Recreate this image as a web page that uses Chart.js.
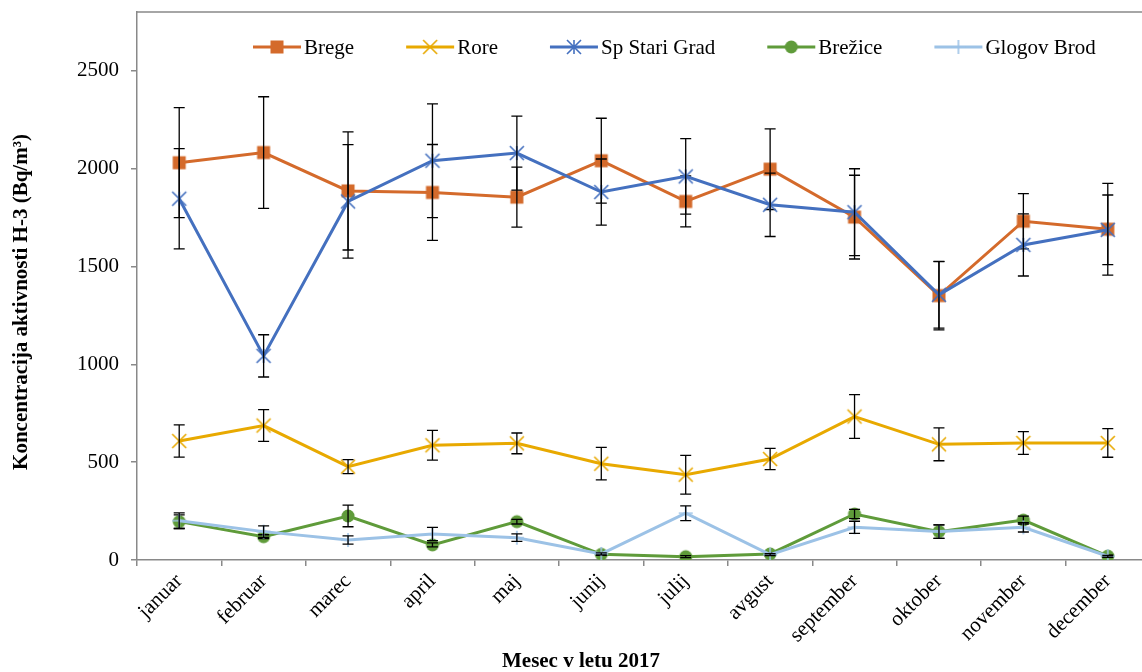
<!DOCTYPE html>
<html>
<head>
<meta charset="utf-8">
<script src="https://cdn.jsdelivr.net/npm/chart.js@4.4.1/dist/chart.umd.min.js"></script>
<style>
  html, body { margin: 0; padding: 0; background: #ffffff; overflow: hidden; }
  #wrap { width: 1160px; height: 672px; }
</style>
</head>
<body>
<div id="wrap"><canvas id="chart" width="1160" height="672"></canvas></div>
<script>
// Months of 2017
const months = ['januar', 'februar', 'marec', 'april', 'maj', 'junij', 'julij', 'avgust', 'september', 'oktober', 'november', 'december'];

// H-3 activity concentration (Bq/m³) and uncertainties per sampling site
const brege       = [2030, 2082, 1886, 1878, 1854, 2040, 1832, 1997, 1752, 1351, 1731, 1690];
const bregeErr    = [281, 285, 302, 245, 153, 217, 130, 206, 214, 175, 141, 234];
const rore        = [608, 687, 477, 586, 596, 492, 436, 516, 733, 591, 598, 598];
const roreErr     = [82, 81, 36, 76, 53, 83, 99, 54, 112, 84, 58, 73];
const spStariGrad = [1846, 1043, 1832, 2040, 2079, 1880, 1960, 1815, 1777, 1355, 1610, 1687];
const spErr       = [256, 108, 290, 291, 189, 169, 193, 162, 222, 170, 159, 178];
const brezice     = [196, 119, 225, 77, 196, 29, 17, 31, 235, 145, 204, 20];
const breziceErr  = [35, 10, 55, 10, 12, 5, 5, 5, 24, 34, 20, 5];
const glogovBrod  = [201, 145, 102, 133, 114, 31, 239, 27, 167, 145, 167, 19];
const glogovErr   = [40, 29, 21, 34, 19, 5, 38, 5, 31, 34, 24, 5];

// Axis tick values
const yTicks = [0, 500, 1000, 1500, 2000, 2500];

const FONT = "'Liberation Serif', 'Times New Roman', serif";
const FONT_SIZE = 21;

// Marker images shared by the lines and the legend
function makeMarker(kind, color) {
  const c = document.createElement('canvas');
  c.width = 24; c.height = 24;
  const g = c.getContext('2d');
  g.fillStyle = color; g.strokeStyle = color; g.lineWidth = 1.6; g.lineCap = 'butt';
  const m = 12;
  if (kind === 'square') {
    g.fillRect(m - 6.5, m - 6.5, 13, 13);
  } else if (kind === 'circle') {
    g.beginPath(); g.arc(m, m, 6.5, 0, Math.PI * 2); g.fill();
  } else {
    g.beginPath();
    if (kind === 'x' || kind === 'star') {
      g.moveTo(m - 7, m - 7); g.lineTo(m + 7, m + 7);
      g.moveTo(m + 7, m - 7); g.lineTo(m - 7, m + 7);
    }
    if (kind === 'star') {
      g.moveTo(m, m - 7); g.lineTo(m, m + 7);
    }
    if (kind === 'plus') {
      g.moveTo(m - 7, m); g.lineTo(m + 7, m);
      g.moveTo(m, m - 7); g.lineTo(m, m + 7);
    }
    g.stroke();
  }
  return c;
}

const series = [
  { label: 'Brege',          data: brege,       err: bregeErr,   color: '#D46A2B', marker: 'square' },
  { label: 'Rore',           data: rore,        err: roreErr,    color: '#E8A900', marker: 'x' },
  { label: 'Sp Stari Grad',  data: spStariGrad, err: spErr,      color: '#4470BF', marker: 'star' },
  { label: 'Brežice',        data: brezice,     err: breziceErr, color: '#5F9B3A', marker: 'circle' },
  { label: 'Glogov Brod',    data: glogovBrod,  err: glogovErr,  color: '#9CC2E6', marker: 'plus' }
];

const datasets = series.map((s, i) => ({
  label: s.label,
  data: s.data,
  errors: s.err,
  borderColor: s.color,
  backgroundColor: s.color,
  borderWidth: 3,
  tension: 0,
  pointStyle: makeMarker(s.marker, s.color),
  pointRadius: 7,
  pointHoverRadius: 7,
  order: series.length - i
}));

// Vertical error bars with caps, drawn right after each series
const errorBars = {
  id: 'errorBars',
  afterDatasetDraw(chart, args) {
    const ds = chart.data.datasets[args.index];
    if (!ds.errors) return;
    const y = chart.scales.y;
    const ctx = chart.ctx;
    ctx.save();
    ctx.strokeStyle = '#000000';
    ctx.lineWidth = 1.3;
    args.meta.data.forEach((pt, i) => {
      const v = ds.data[i], e = ds.errors[i];
      const yTop = y.getPixelForValue(v + e);
      const yBot = y.getPixelForValue(v - e);
      const x = pt.x;
      ctx.beginPath();
      ctx.moveTo(x, yTop); ctx.lineTo(x, yBot);
      ctx.moveTo(x - 5.5, yTop); ctx.lineTo(x + 5.5, yTop);
      ctx.moveTo(x - 5.5, yBot); ctx.lineTo(x + 5.5, yBot);
      ctx.stroke();
    });
    ctx.restore();
  }
};

// Plot frame top edge, legend and axis titles
const decorations = {
  id: 'decorations',
  afterDraw(chart) {
    const ctx = chart.ctx;
    const a = chart.chartArea;
    ctx.save();
    ctx.strokeStyle = '#898989';
    ctx.lineWidth = 1.5;
    ctx.beginPath();
    ctx.moveTo(a.left, a.top); ctx.lineTo(a.right, a.top);
    ctx.stroke();

    // Legend in the top of the plot area
    ctx.font = FONT_SIZE + 'px ' + FONT;
    ctx.textBaseline = 'middle';
    ctx.textAlign = 'left';
    let x = 253;
    const ly = 47;
    chart.data.datasets.forEach(ds => {
      ctx.strokeStyle = ds.borderColor;
      ctx.lineWidth = 3;
      ctx.beginPath(); ctx.moveTo(x, ly); ctx.lineTo(x + 48, ly); ctx.stroke();
      const img = ds.pointStyle;
      ctx.drawImage(img, x + 24 - img.width / 2, ly - img.height / 2);
      ctx.fillStyle = '#000000';
      ctx.fillText(ds.label, x + 51, ly + 1);
      x += 51 + ctx.measureText(ds.label).width + 52;
    });

    // Axis titles
    ctx.font = 'bold ' + FONT_SIZE + 'px ' + FONT;
    ctx.fillStyle = '#000000';
    ctx.textAlign = 'center';
    ctx.fillText('Mesec v letu 2017', 581, 662);
    ctx.translate(22, 302);
    ctx.rotate(-Math.PI / 2);
    ctx.fillText('Koncentracija aktivnosti H-3 (Bq/m³)', 0, 0);
    ctx.restore();
  }
};

new Chart(document.getElementById('chart'), {
  type: 'line',
  data: { labels: months, datasets },
  plugins: [errorBars, decorations],
  options: {
    responsive: false,
    animation: false,
    devicePixelRatio: 1,
    layout: { padding: { top: 12, right: 7, left: 0, bottom: 0 } },
    plugins: { legend: { display: false }, tooltip: { enabled: false } },
    scales: {
      x: {
        type: 'category',
        offset: true,
        grid: { display: true, drawOnChartArea: false, offset: true, drawTicks: true, tickLength: 6, color: '#898989', lineWidth: 1.5 },
        border: { display: true, color: '#898989', width: 1.5 },
        ticks: { color: '#000000', font: { family: FONT, size: FONT_SIZE }, minRotation: 45, maxRotation: 45, padding: 3, autoSkip: false },
        afterFit(scale) {
          scale.height = 112;
          scale.paddingLeft = 0;
          scale.paddingRight = 0;
        }
      },
      y: {
        min: 0,
        max: 2800,
        grid: { display: true, drawOnChartArea: false, drawTicks: true, tickLength: 6, color: '#898989', lineWidth: 1.5 },
        border: { display: true, color: '#898989', width: 1.5 },
        ticks: {
          color: '#000000',
          font: { family: FONT, size: FONT_SIZE },
          padding: 12,
          callback: v => String(v)
        },
        afterBuildTicks(scale) { scale.ticks = yTicks.map(v => ({ value: v })); },
        afterFit(scale) {
          scale.width = 137;
          scale.paddingTop = 0;
          scale.paddingBottom = 0;
        }
      }
    }
  }
});
</script>
</body>
</html>
